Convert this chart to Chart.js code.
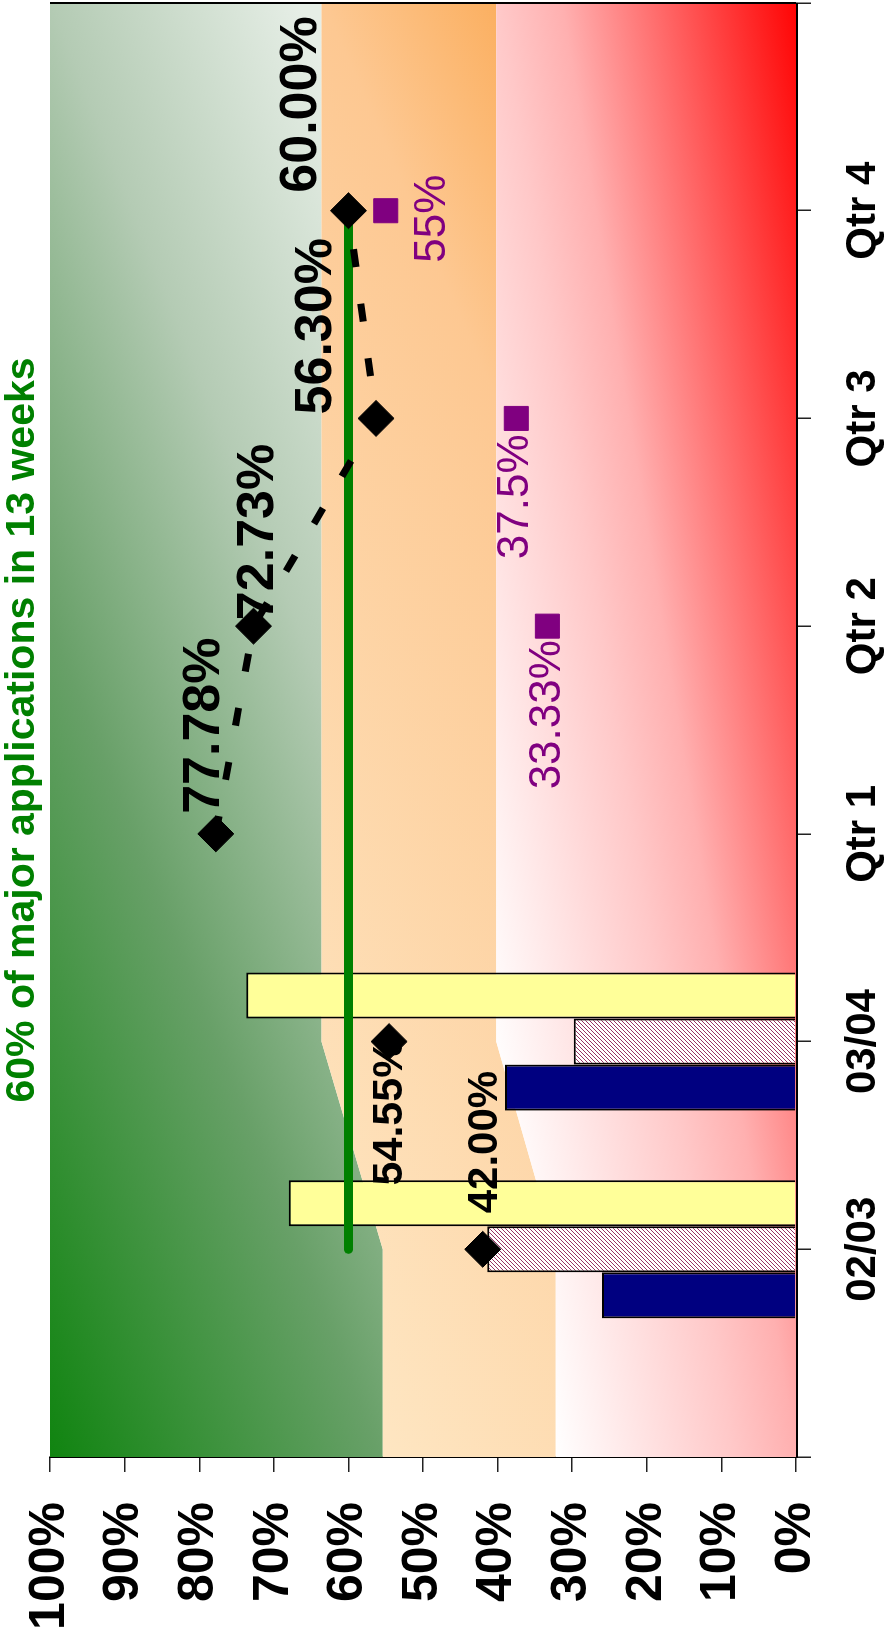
<!DOCTYPE html>
<html lang="en">
<head>
  <meta charset="UTF-8" />
  <title>60% of major applications in 13 weeks</title>
  <script src="https://cdn.jsdelivr.net/npm/chart.js@4.4.1/dist/chart.umd.min.js"></script>
  <style>
    html, body { margin: 0; padding: 0; background: #fff; overflow: hidden; }
    body { width: 884px; height: 1639px; position: relative; }
    /* chart is drawn landscape, then turned a quarter to the left */
    #wrap {
      position: absolute; left: 0; top: 0;
      width: 1639px; height: 884px;
      transform-origin: 0 0;
      transform: translate(0, 1639px) rotate(-90deg);
    }
  </style>
</head>
<body>
  <div id="wrap"><canvas id="grafico" width="1639" height="884"></canvas></div>
  <script>
    // data
    const categories = ['', '02/03', '03/04', 'Qtr 1', 'Qtr 2', 'Qtr 3', 'Qtr 4', ''];
    const yTickValues = [0, 10, 20, 30, 40, 50, 60, 70, 80, 90, 100];

    const seriesBlue    = [null, 26.0, 39.0, null, null, null, null, null];
    const seriesHatched = [null, 41.4, 29.8, null, null, null, null, null];
    const seriesYellow  = [null, 68.0, 73.7, null, null, null, null, null];

    const targetPct = [null, 60, 60, 60, 60, 60, 60, null];
    const actualPct = [null, 42.00, 54.55, 77.78, 72.73, 56.30, 60.00, null];
    const purplePct = [null, null, null, null, 33.33, 37.5, 55, null];

    // background bands (upper edge of each band)
    const bandRed    = [32.2, 32.2, 40.2, 40.2, 40.2, 40.2, 40.2, 40.2];
    const bandOrange = [55.4, 55.4, 63.6, 63.6, 63.6, 63.6, 63.6, 63.6];
    const bandGreen  = [100, 100, 100, 100, 100, 100, 100, 100];

    const FONT = "'Liberation Sans', Arial, Helvetica, sans-serif";
    Chart.defaults.font.family = FONT;

    // hatch for the middle bars
    const tile = document.createElement('canvas');
    tile.width = 4; tile.height = 4;
    const tc = tile.getContext('2d');
    tc.fillStyle = '#ffffff';
    tc.fillRect(0, 0, 4, 4);
    tc.strokeStyle = '#993366';
    tc.lineWidth = 1;
    tc.beginPath();
    tc.moveTo(0, 4); tc.lineTo(4, 0);
    tc.moveTo(-1, 1); tc.lineTo(1, -1);
    tc.moveTo(3, 5); tc.lineTo(5, 3);
    tc.stroke();
    const hatch = tc.createPattern(tile, 'repeat');

    function bandGradient(ctx, x0, y0, dx, dy, stops, fallback) {
      const a = ctx.chart.chartArea;
      if (!a) return fallback;
      const w = a.right - a.left, h = a.bottom - a.top;
      const sx = a.left + x0 * w, sy = a.top + y0 * h;
      const g = ctx.chart.ctx.createLinearGradient(sx, sy, sx + dx * w, sy + dy * h);
      stops.forEach(s => g.addColorStop(s[0], s[1]));
      return g;
    }

    const greenFill = c => bandGradient(c, 0, 0, 0.195, 0.957,
      [[0, '#108410'], [0.4, '#68a068'], [0.7, '#b4cbb4'], [1, '#e6eee6']], '#6a9e6a');
    const orangeFill = c => bandGradient(c, 0, 0.446, 0.29, 1.295,
      [[0, '#fee6c2'], [0.5, '#fdc892'], [0.66, '#fbae5e'], [1, '#fbae5e']], '#fdd3a0');
    const redFill = c => bandGradient(c, 0, 0.678, 0.052, 0.629,
      [[0, '#ffffff'], [0.37, '#ffc8c8'], [0.5, '#ffb0b0'], [1, '#ff0000']], '#ffb0b0');

    // value labels next to the markers
    const labelSets = [
      {
        dataset: 7, color: '#000', weight: 'bold', size: 52,
        format: v => v.toFixed(2) + '%',
        place: {
          1: { align: 'left', dx: 36, dy: 14, size: 42 },
          2: { align: 'right', dx: 2, dy: 13, size: 43 },
          3: { align: 'left', dx: 20, dy: 3 },
          4: { align: 'left', dx: 6, dy: 19 },
          5: { align: 'left', dx: 4, dy: -45 },
          6: { align: 'left', dx: 18, dy: -32 }
        }
      },
      {
        dataset: 8, color: '#800080', weight: 'normal', size: 44,
        format: v => v + '%',
        place: {
          4: { align: 'right', baseline: 'middle', dx: -14, dy: 0 },
          5: { align: 'right', baseline: 'middle', dx: -16, dy: 0 },
          6: { align: 'center', baseline: 'top', dx: -8, dy: 25 }
        }
      }
    ];

    const pointLabels = {
      id: 'pointLabels',
      afterDatasetsDraw(chart) {
        const c = chart.ctx;
        labelSets.forEach(set => {
          const meta = chart.getDatasetMeta(set.dataset);
          const values = chart.data.datasets[set.dataset].data;
          c.save();
          c.fillStyle = set.color;
          values.forEach((v, i) => {
            if (v == null) return;
            const el = meta.data[i];
            const p = set.place[i] || {};
            c.font = `${set.weight} ${p.size || set.size}px ${FONT}`;
            c.textAlign = p.align || 'left';
            c.textBaseline = p.baseline || 'alphabetic';
            c.fillText(set.format(v), el.x + (p.dx || 0), el.y + (p.dy || 0));
          });
          c.restore();
        });
      }
    };

    // closing line on the far side of the plot
    const frame = {
      id: 'frame',
      afterDatasetsDraw(chart) {
        const a = chart.chartArea, c = chart.ctx;
        c.save();
        c.strokeStyle = '#000';
        c.lineWidth = 2;
        c.beginPath();
        c.moveTo(a.right, a.top);
        c.lineTo(a.right, a.bottom);
        c.stroke();
        c.restore();
      }
    };

    // scales should not push the plot inwards for their end labels
    function noEdgePadding(s) {
      s.paddingTop = 0; s.paddingBottom = 0;
      s.paddingLeft = 0; s.paddingRight = 0;
    }

    const ctx = document.getElementById('grafico').getContext('2d');

    new Chart(ctx, {
      type: 'bar',
      data: {
        labels: categories,
        datasets: [
          { type: 'line', data: bandRed, fill: 'origin', backgroundColor: redFill,
            borderWidth: 0, pointRadius: 0, order: 9 },
          { type: 'line', data: bandOrange, fill: '-1', backgroundColor: orangeFill,
            borderWidth: 0, pointRadius: 0, order: 9 },
          { type: 'line', data: bandGreen, fill: '-1', backgroundColor: greenFill,
            borderWidth: 0, pointRadius: 0, order: 9 },
          { data: seriesBlue, backgroundColor: '#000080', borderColor: '#000', borderWidth: 2,
            categoryPercentage: 0.665, barPercentage: 1, order: 5 },
          { data: seriesHatched, backgroundColor: hatch, borderColor: '#000', borderWidth: 2,
            categoryPercentage: 0.665, barPercentage: 1, order: 5 },
          { data: seriesYellow, backgroundColor: '#ffff99', borderColor: '#000', borderWidth: 2,
            categoryPercentage: 0.665, barPercentage: 1, order: 5 },
          { type: 'line', data: targetPct, borderColor: '#008000', borderWidth: 9,
            borderCapStyle: 'round', pointRadius: 0, fill: false, order: 4 },
          { type: 'line', data: actualPct, borderColor: '#000', borderWidth: 7,
            borderDash: [18, 37], fill: false,
            pointStyle: 'rectRot', pointRadius: 18, pointBackgroundColor: '#000',
            pointBorderColor: '#000', pointBorderWidth: 1,
            segment: { borderColor: s => s.p0DataIndex < 3 ? 'rgba(0,0,0,0)' : undefined },
            order: 3 },
          { type: 'line', data: purplePct, showLine: false, fill: false,
            pointStyle: 'rect', pointRadius: 17, pointBackgroundColor: '#800080',
            pointBorderColor: '#800080', pointBorderWidth: 1, order: 2 }
        ]
      },
      options: {
        responsive: false,
        animation: false,
        devicePixelRatio: 1,
        layout: { autoPadding: false, padding: { top: 0, right: 3, bottom: 0, left: 0 } },
        plugins: {
          legend: { display: false },
          tooltip: { enabled: false },
          filler: { drawTime: 'beforeDatasetsDraw' },
          title: {
            display: true,
            text: '60% of major applications in 13 weeks',
            color: '#008000',
            fullSize: false,
            font: { size: 41, weight: 'bold', lineHeight: 1.1 },
            padding: { top: 0, bottom: 5 }
          }
        },
        scales: {
          x: {
            type: 'category',
            offset: false,
            grid: { display: true, offset: false, drawOnChartArea: false, drawTicks: true,
                    tickLength: 15, color: '#222', lineWidth: 1.5 },
            border: { display: true, color: '#000', width: 3 },
            ticks: { autoSkip: false, maxRotation: 0, minRotation: 0, padding: 27,
                     color: '#000', font: { size: 42, weight: 'bold' } },
            afterFit: s => { s.height = 88; noEdgePadding(s); }
          },
          y: {
            min: 0,
            max: 100,
            grid: { display: true, drawOnChartArea: false, drawTicks: true,
                    tickLength: 15, color: '#222', lineWidth: 1.5 },
            border: { display: true, color: '#000', width: 1.5 },
            ticks: { autoSkip: false, padding: 30, color: '#000',
                     font: { size: 50, weight: 'bold' },
                     callback: v => v + '%' },
            afterBuildTicks: s => { s.ticks = yTickValues.map(value => ({ value })); },
            afterFit: s => { s.width = 182; noEdgePadding(s); }
          }
        }
      },
      plugins: [pointLabels, frame]
    });
  </script>
</body>
</html>
